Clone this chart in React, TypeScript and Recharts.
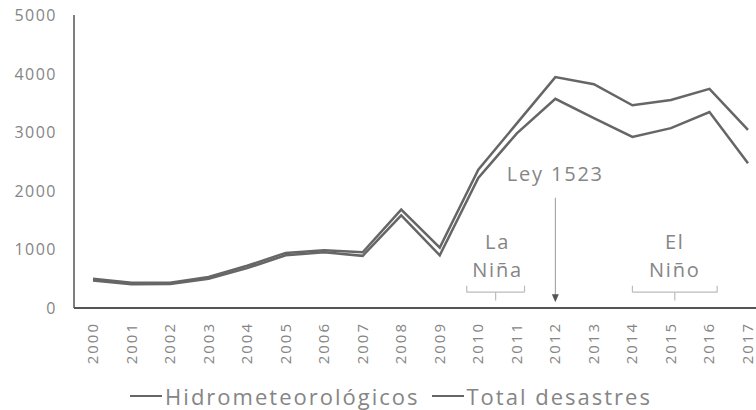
import React from 'react';
import { LineChart, Line, XAxis, YAxis, Legend, ReferenceLine, ReferenceDot } from 'recharts';

const years = [2000, 2001, 2002, 2003, 2004, 2005, 2006, 2007, 2008, 2009, 2010, 2011, 2012, 2013, 2014, 2015, 2016, 2017];
const totalDesastres = [500, 430, 430, 530, 720, 940, 985, 950, 1680, 1030, 2360, 3150, 3940, 3820, 3460, 3550, 3740, 3040];
const hidrometeorologicos = [470, 405, 410, 500, 680, 900, 950, 890, 1580, 900, 2220, 2980, 3570, 3240, 2920, 3070, 3345, 2470];
const yTicks = [0, 1000, 2000, 3000, 4000, 5000];
const seriesNames = ['Hidrometeorológicos', 'Total desastres'];

const annotationTexts = [
  { x: 2012, y: 2300, text: 'Ley 1523' },
  { x: 2010.5, y: 1130, text: 'La' },
  { x: 2010.5, y: 650, text: 'Niña' },
  { x: 2015.1, y: 1130, text: 'El' },
  { x: 2015.1, y: 650, text: 'Niño' },
];
const arrow = { x: 2012, yFrom: 1880, yTo: 100 };
const brackets = [
  { from: 2009.7, to: 2011.2, mid: 2010.45 },
  { from: 2014.0, to: 2016.2, mid: 2015.1 },
];
const bracketLevel = 270;
const bracketEndLevel = 380;
const bracketTickLevel = 130;

const data = years.map((year, i) => ({
  year,
  total: totalDesastres[i],
  hidro: hidrometeorologicos[i],
}));

const FONT = '"Open Sans", sans-serif';
const LINE_COLOR = '#666';
const TEXT_COLOR = '#858585';

const XTick = (props: any) => {
  const { x, y, payload } = props;
  return (
    <text
      x={x}
      y={y}
      transform={`rotate(-90, ${x}, ${y})`}
      textAnchor="end"
      dy={5}
      fill={TEXT_COLOR}
      fontFamily={FONT}
      fontSize={15}
      letterSpacing={2}
    >
      {payload.value}
    </text>
  );
};

const YTick = (props: any) => {
  const { x, y, payload } = props;
  return (
    <text
      x={x}
      y={y}
      textAnchor="end"
      dominantBaseline="central"
      fill={TEXT_COLOR}
      fontFamily={FONT}
      fontSize={16}
      letterSpacing={1.5}
    >
      {payload.value}
    </text>
  );
};

const ArrowShape = (p: any) => {
  const { x1, y1, x2, y2 } = p;
  return (
    <g>
      <line x1={x1} y1={y1} x2={x2} y2={y2 - 5} stroke="#999" strokeWidth={1} />
      <polygon points={`${x2 - 3.5},${y2 - 8} ${x2 + 3.5},${y2 - 8} ${x2},${y2}`} fill="#555" />
    </g>
  );
};

const LegendContent = () => (
  <div
    style={{
      display: 'flex',
      justifyContent: 'center',
      alignItems: 'center',
      fontFamily: FONT,
      fontSize: 22,
      letterSpacing: 2,
      color: TEXT_COLOR,
      paddingLeft: 26,
    }}
  >
    {seriesNames.map((name, i) => (
      <div key={name} style={{ display: 'flex', alignItems: 'center', marginLeft: i === 0 ? 0 : 12 }}>
        <span style={{ display: 'inline-block', width: 32, height: 2.5, background: LINE_COLOR, marginRight: 3 }} />
        <span>{name}</span>
      </div>
    ))}
  </div>
);

export default function App() {
  return (
    <div style={{ position: 'absolute', left: 0, top: 0, width: 756, height: 410, background: '#fff' }}>
      <LineChart width={756} height={410} data={data} margin={{ top: 15, right: 0, left: 0, bottom: 0 }}>
        <XAxis
          dataKey="year"
          type="number"
          domain={[2000, 2017]}
          ticks={years}
          interval={0}
          padding={{ left: 19, right: 8 }}
          height={60}
          tickLine={false}
          tickSize={0}
          tickMargin={14}
          tick={<XTick />}
          axisLine={{ stroke: '#555', strokeWidth: 2 }}
        />
        <YAxis
          domain={[0, 5000]}
          ticks={yTicks}
          width={74}
          tickLine={false}
          tickSize={0}
          tickMargin={17}
          tick={<YTick />}
          axisLine={{ stroke: '#555', strokeWidth: 1.5 }}
        />
        <Legend
          verticalAlign="bottom"
          height={42}
          content={<LegendContent />}
          wrapperStyle={{ position: 'absolute', top: 381, left: 0, width: 756 }}
        />
        <Line dataKey="total" name={seriesNames[1]} stroke={LINE_COLOR} strokeWidth={2.5} dot={false} isAnimationActive={false} />
        <Line dataKey="hidro" name={seriesNames[0]} stroke={LINE_COLOR} strokeWidth={2.5} dot={false} isAnimationActive={false} />
        <ReferenceLine
          segment={[{ x: arrow.x, y: arrow.yFrom }, { x: arrow.x, y: arrow.yTo }]}
          shape={<ArrowShape />}
          ifOverflow="visible"
        />
        {brackets.map((b, i) => (
          <ReferenceLine key={`bh${i}`} segment={[{ x: b.from, y: bracketLevel }, { x: b.to, y: bracketLevel }]} stroke="#bbb" strokeWidth={1.2} ifOverflow="visible" />
        ))}
        {brackets.map((b, i) => (
          <ReferenceLine key={`bl${i}`} segment={[{ x: b.from, y: bracketLevel }, { x: b.from, y: bracketEndLevel }]} stroke="#bbb" strokeWidth={1.2} ifOverflow="visible" />
        ))}
        {brackets.map((b, i) => (
          <ReferenceLine key={`br${i}`} segment={[{ x: b.to, y: bracketLevel }, { x: b.to, y: bracketEndLevel }]} stroke="#bbb" strokeWidth={1.2} ifOverflow="visible" />
        ))}
        {brackets.map((b, i) => (
          <ReferenceLine key={`bm${i}`} segment={[{ x: b.mid, y: bracketLevel }, { x: b.mid, y: bracketTickLevel }]} stroke="#bbb" strokeWidth={1.2} ifOverflow="visible" />
        ))}
        {annotationTexts.map((a, i) => (
          <ReferenceDot
            key={`t${i}`}
            x={a.x}
            y={a.y}
            r={0}
            ifOverflow="visible"
            shape={(p: any) => (
              <text
                x={p.cx}
                y={p.cy}
                textAnchor="middle"
                dominantBaseline="central"
                fill={TEXT_COLOR}
                fontFamily={FONT}
                fontSize={20}
                letterSpacing={1.8}
              >
                {a.text}
              </text>
            )}
          />
        ))}
      </LineChart>
    </div>
  );
}
